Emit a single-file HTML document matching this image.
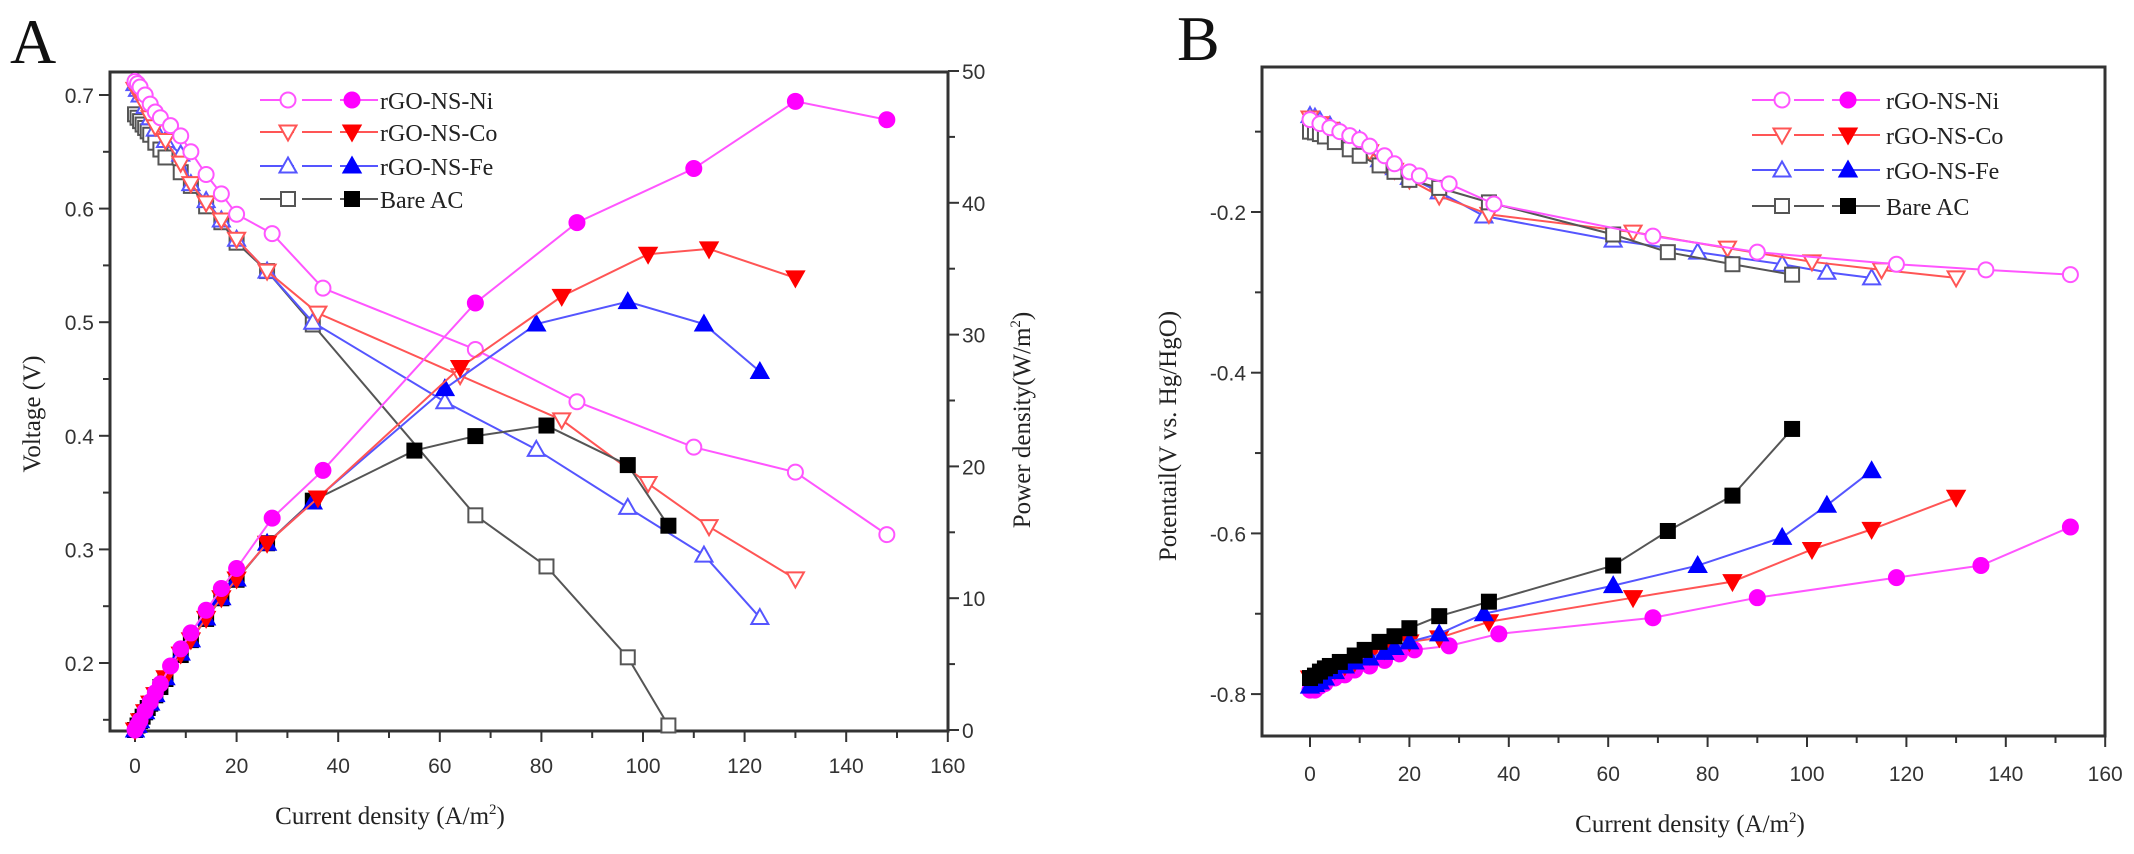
<!DOCTYPE html>
<html><head><meta charset="utf-8"><style>
html,body{margin:0;padding:0;background:#fff;}
svg{display:block;}
.tk{font-family:"Liberation Sans",sans-serif;font-size:21px;fill:#333;}
.lb{font-family:"Liberation Serif",serif;font-size:25px;fill:#222;}
</style></head><body>
<svg id="s" width="2134" height="854" xmlns="http://www.w3.org/2000/svg">
<text x="10" y="63" font-family="Liberation Serif,serif" font-size="64" fill="#111">A</text>
<text x="1177" y="60" font-family="Liberation Serif,serif" font-size="64" fill="#111">B</text>
<text class="lb" x="390" y="824" text-anchor="middle">Current density (A/m<tspan dy="-10" font-size="15">2</tspan><tspan dy="10">)</tspan></text>
<text class="lb" x="1690" y="832" text-anchor="middle">Current density (A/m<tspan dy="-10" font-size="15">2</tspan><tspan dy="10">)</tspan></text>
<text class="lb" transform="translate(40,414) rotate(-90)" text-anchor="middle">Voltage (V)</text>
<text class="lb" transform="translate(1030,420) rotate(-90)" text-anchor="middle">Power density(W/m<tspan dy="-10" font-size="15">2</tspan><tspan dy="10">)</tspan></text>
<text class="lb" transform="translate(1176,436) rotate(-90)" text-anchor="middle">Potentail(V vs. Hg/HgO)</text>
</svg>
<script>
const S=document.getElementById('s');const NS='http://www.w3.org/2000/svg';
function el(t,a,txt){const e=document.createElementNS(NS,t);for(const k in a)e.setAttribute(k,a[k]);if(txt!=null)e.textContent=txt;S.appendChild(e);return e;}
const C={Ni:['#ff55ff','#ff00ff'],Co:['#ff5555','#ff0000'],Fe:['#5555ff','#0000ff'],AC:['#555','#000']};
const M={Ni:'c',Co:'v',Fe:'^',AC:'s'};
function mk(x,y,t,col,fill){const r=7.5;
 const st={stroke:col,'stroke-width':2,fill:fill?col:'#fff'};
 if(t=='c')el('circle',Object.assign({cx:x,cy:y,r:r},st));
 else if(t=='s')el('rect',Object.assign({x:x-r+0.5,y:y-r+0.5,width:2*r-1,height:2*r-1},st));
 else if(t=='^')el('polygon',Object.assign({points:`${x},${y-r-1} ${x+r+1},${y+r-1} ${x-r-1},${y+r-1}`},st));
 else el('polygon',Object.assign({points:`${x},${y+r+1} ${x+r+1},${y-r+1} ${x-r-1},${y-r+1}`},st));}
function series(pts,fx,fy,name,fill){const col=C[name];
 el('polyline',{points:pts.map(p=>fx(p[0])+','+fy(p[1])).join(' '),fill:'none',stroke:col[0],'stroke-width':2});
 pts.forEach(p=>mk(fx(p[0]),fy(p[1]),M[name],fill?col[1]:col[0],fill));}
function frame(L,T,R,B){el('rect',{x:L,y:T,width:R-L,height:B-T,fill:'none',stroke:'#333','stroke-width':3});}
// Panel A
const AL=110,AT=72,AR=948,AB=731;
const ax=x=>135+x*5.08, ay=v=>95+(0.7-v)*1136, ap=p=>730-p*13.18;
frame(AL,AT,AR,AB);
for(let v=0;v<=160;v+=10){const X=ax(v);el('line',{x1:X,y1:AB,x2:X,y2:AB+(v%20?7:11),stroke:'#333','stroke-width':2});if(v%20==0)el('text',{x:X,y:773,class:'tk','text-anchor':'middle'},v);}
for(let i=0;i<=12;i++){const v=0.15+i*0.05;const Y=ay(v);if(Y<AT)continue;const maj=i%2==1;el('line',{x1:AL,y1:Y,x2:AL-(maj?11:7),y2:Y,stroke:'#333','stroke-width':2});if(maj)el('text',{x:AL-16,y:Y+8,class:'tk','text-anchor':'end'},v.toFixed(1));}
for(let p=0;p<=50;p+=5){const Y=ap(p);el('line',{x1:AR,y1:Y,x2:AR+(p%10?7:11),y2:Y,stroke:'#333','stroke-width':2});if(p%10==0)el('text',{x:AR+14,y:Y+8,class:'tk'},p);}
const VA={
Ni:[[0,.712],[0.5,.71],[1,.707],[2,.70],[3,.692],[4,.685],[5,.68],[7,.673],[9,.664],[11,.65],[14,.63],[17,.613],[20,.595],[27,.578],[37,.53],[67,.476],[87,.43],[110,.39],[130,.368],[148,.313]],
Co:[[0,.705],[1,.70],[2,.69],[3,.68],[4,.672],[6,.66],[9,.64],[11,.622],[14,.605],[17,.59],[20,.573],[26,.545],[36,.508],[64,.453],[84,.414],[101,.358],[113,.32],[130,.274]],
Fe:[[0,.71],[0.5,.705],[1,.70],[2,.69],[3,.68],[4,.67],[6,.66],[9,.648],[11,.622],[14,.607],[17,.59],[20,.573],[26,.545],[35,.50],[61,.43],[79,.388],[97,.337],[112,.295],[123,.24]],
AC:[[0,.683],[0.5,.68],[1,.677],[1.5,.674],[2,.671],[2.5,.668],[3,.665],[4,.658],[5,.652],[6,.645],[9,.632],[11,.62],[14,.602],[17,.588],[20,.57],[26,.545],[35,.498],[67,.33],[81,.285],[97,.205],[105,.145]]};
const Pfix={Ni:{37:19.7,67:32.4,87:38.5,110:42.6,130:47.7,148:46.3},Co:{36:17.6,64:27.5,84:32.9,101:36.1,113:36.5,130:34.3},Fe:{35:17.3,61:25.9,79:30.8,97:32.5,112:30.8,123:27.2},AC:{35:17.4,55:21.2,67:22.3,81:23.1,97:20.1,105:15.5}};
['AC','Fe','Co','Ni'].forEach(n=>{series(VA[n],ax,ay,n,false);});
['AC','Fe','Co','Ni'].forEach(n=>{
 let pts=VA[n].filter(p=>p[0]<30).map(p=>[p[0],p[0]*p[1]]);
 if(n=='AC')pts.push([35,17.4],[55,21.2]);
 for(const k in Pfix[n]){const x=+k;if(n=='AC'&&(x==35||x==55))continue;pts.push([x,Pfix[n][k]]);}
 pts.sort((a,b)=>a[0]-b[0]);
 if(n=='Ni')pts=pts.map(p=>p[0]<30?[p[0],p[1]*1.03]:p);
 series(pts,ax,ap,n,true);});
function legend(x0,x1,m1,m2,tx,rows){const names=['Ni','Co','Fe','AC'],lab=['rGO-NS-Ni','rGO-NS-Co','rGO-NS-Fe','Bare AC'];
 names.forEach((n,i)=>{const y=rows[i];el('line',{x1:x0,y1:y,x2:x1,y2:y,stroke:C[n][0],'stroke-width':2,'stroke-dasharray':'34 8 30 8 200'});
 mk(m1,y,M[n],C[n][0],false);mk(m2,y,M[n],C[n][1],true);
 el('text',{x:tx,y:y+9,'font-family':'Liberation Serif,serif','font-size':24,fill:'#222'},lab[i]);});}
legend(260,378,288,352,380,[100,132,166,199]);
// Panel B
const BL=1262,BT=67,BR=2105,BB=736;
const bx=x=>1310+x*4.97, by=v=>212+(-0.2-v)*803.5;
frame(BL,BT,BR,BB);
for(let v=0;v<=160;v+=10){const X=bx(v);el('line',{x1:X,y1:BB,x2:X,y2:BB+(v%20?7:11),stroke:'#333','stroke-width':2});if(v%20==0)el('text',{x:X,y:781,class:'tk','text-anchor':'middle'},v);}
for(let i=0;i<=8;i++){const v=-0.1-i*0.1;const Y=by(v);if(Y<BT||Y>BB)continue;const maj=i%2==1;el('line',{x1:BL,y1:Y,x2:BL-(maj?11:7),y2:Y,stroke:'#333','stroke-width':2});if(maj)el('text',{x:BL-16,y:Y+8,class:'tk','text-anchor':'end'},v.toFixed(1));}
const BO={
Ni:[[0,-.085],[2,-.09],[4,-.095],[6,-.10],[8,-.105],[10,-.11],[12,-.118],[15,-.13],[17,-.14],[20,-.15],[22,-.155],[28,-.165],[37,-.19],[69,-.23],[90,-.25],[118,-.265],[136,-.272],[153,-.278]],
Co:[[0,-.083],[2,-.09],[4,-.097],[6,-.105],[9,-.115],[12,-.125],[15,-.14],[17,-.148],[20,-.16],[26,-.18],[36,-.203],[65,-.225],[84,-.245],[101,-.262],[115,-.272],[130,-.282]],
Fe:[[0,-.08],[1,-.082],[2,-.086],[4,-.092],[6,-.1],[10,-.11],[14,-.135],[17,-.145],[20,-.157],[26,-.175],[35,-.205],[61,-.235],[78,-.25],[95,-.265],[104,-.275],[113,-.282]],
AC:[[0,-.1],[1,-.101],[2,-.103],[3,-.106],[5,-.113],[8,-.122],[10,-.13],[14,-.142],[17,-.15],[20,-.16],[26,-.17],[36,-.188],[61,-.228],[72,-.25],[85,-.265],[97,-.278]]};
const BA={
Ni:[[0,-.795],[1,-.795],[2,-.79],[3,-.787],[5,-.78],[7,-.776],[9,-.77],[12,-.765],[15,-.758],[18,-.75],[21,-.745],[28,-.74],[38,-.725],[69,-.705],[90,-.68],[118,-.655],[135,-.64],[153,-.592]],
Co:[[0,-.78],[1,-.783],[2,-.782],[3,-.778],[5,-.77],[7,-.765],[9,-.76],[12,-.752],[15,-.745],[20,-.735],[26,-.73],[36,-.71],[65,-.68],[85,-.66],[101,-.62],[113,-.595],[130,-.555]],
Fe:[[0,-.79],[1,-.788],[2,-.785],[3,-.78],[5,-.772],[7,-.765],[9,-.76],[12,-.755],[15,-.748],[17,-.742],[20,-.735],[26,-.725],[35,-.70],[61,-.665],[78,-.64],[95,-.605],[104,-.565],[113,-.522]],
AC:[[0,-.78],[1,-.777],[2,-.772],[3,-.768],[4,-.765],[6,-.76],[9,-.752],[11,-.745],[14,-.735],[17,-.728],[20,-.718],[26,-.703],[36,-.685],[61,-.64],[72,-.597],[85,-.553],[97,-.47]]};
['Fe','Co','AC','Ni'].forEach(n=>series(BO[n],bx,by,n,false));
['Ni','Co','Fe','AC'].forEach(n=>series(BA[n],bx,by,n,true));
legend(1752,1880,1782,1848,1886,[100,135,170,206]);
</script>
</body></html>
